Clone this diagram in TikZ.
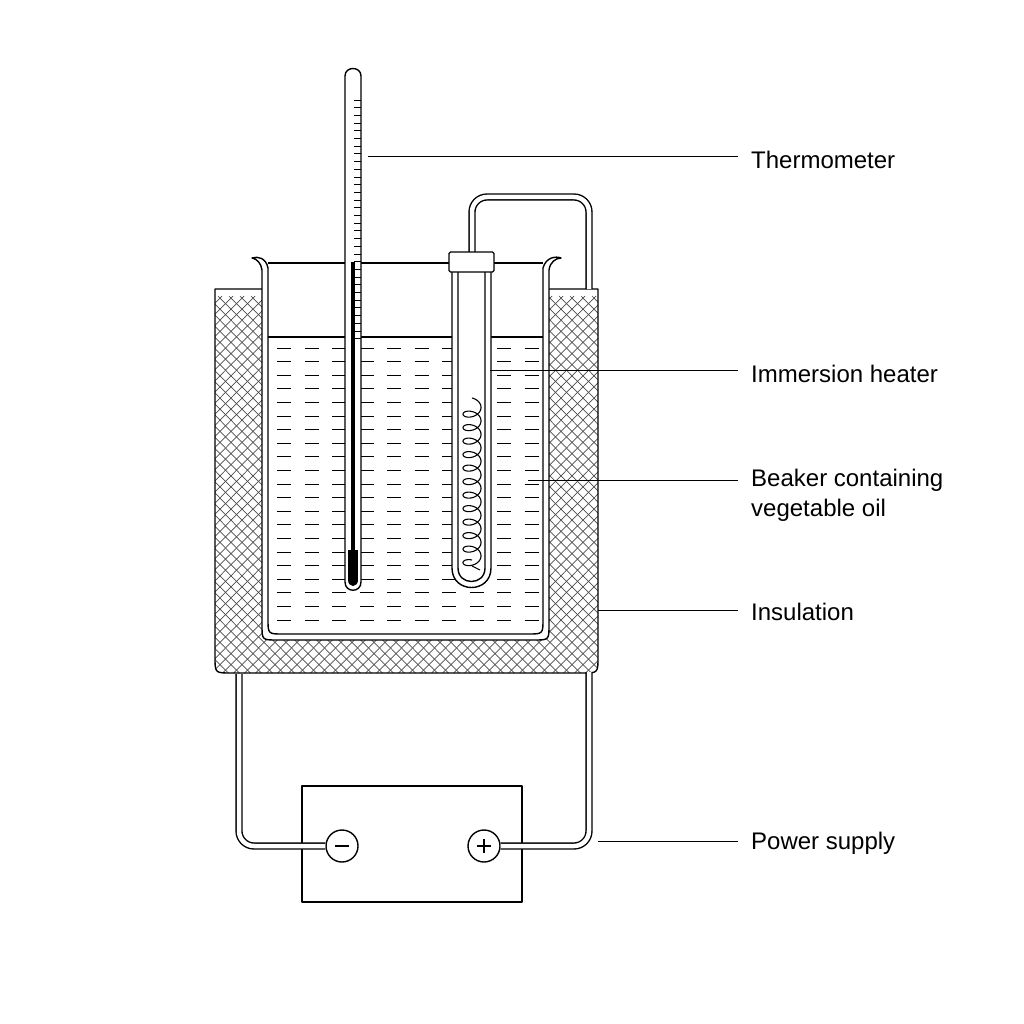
\documentclass[tikz,border=0pt]{standalone}
\usepackage{fontspec}
\setmainfont{Liberation Sans}
\begin{document}
\begin{tikzpicture}[x=1pt,y=-1pt,line join=round,
  ln/.style={line width=1.4pt},
  wire/.style={draw=black,line width=1.4pt,double=white,double distance=4.5pt,rounded corners=15pt},
  lead/.style={line width=1pt},
  lab/.style={anchor=west,font=\fontsize{24}{30}\selectfont,align=left,inner sep=0pt}]
\useasboundingbox (0,0) rectangle (1024,1024);
% insulation hatch
\begin{scope}[even odd rule]
\clip (215,289) -- (215,657) .. controls (215,673) .. (231,673) -- (582,673) .. controls (598,673) .. (598,657) -- (598,289) -- cycle
  (262,250) -- (262,625) .. controls (262,640) .. (277,640) -- (534,640) .. controls (549,640) .. (549,625) -- (549,250) -- cycle;
\foreach \i in {0,11,...,900}{
  \draw[line width=0.7pt,gray!60!black] (\i-200,700) -- (\i+200,296);
  \draw[line width=0.7pt,gray!60!black] (\i-200,296) -- (\i+200,700);
}
\end{scope}
\draw[ln] (262,289) -- (215,289) -- (215,657) .. controls (215,673) .. (231,673) -- (582,673) .. controls (598,673) .. (598,657) -- (598,289) -- (549,289);
% beaker
\node[coordinate] (bk) at (405,450) {};
\draw[ln,fill=white] (262,270) -- (262,625) .. controls (262,640) .. (277,640) -- (534,640) .. controls (549,640) .. (549,625) -- (549,270)
  .. controls (550,262) and (556,258) .. (561,258) .. controls (556,256) and (546,257) .. (543,268)
  -- (543,619) .. controls (543,634) .. (528,634) -- (283,634) .. controls (268,634) .. (268,619) -- (268,268)
  .. controls (266,258) and (258,256) .. (252,258) .. controls (257,259) and (261,263) .. (262,270) -- cycle;
\draw[ln] (268,263) -- (543,263);
\draw[ln] (268,337) -- (543,337);
% oil dashes
\begin{scope}
\clip (268,340) rectangle (543,630);
\foreach \r in {0,...,20}{
  \foreach \c in {0,...,9}{
    \draw[line width=0.9pt] ({277+27.5*\c},{348+13.6*\r}) -- +(14,0);
  }
}
\end{scope}
% heater wire above
\draw[wire] (472,254) -- (472,197) -- (589,197) -- (589,289);
% thermometer
\node[coordinate] (th) at (353,157) {};
\draw[ln,fill=white] (345,76) .. controls (345,66) and (361,66) .. (361,76) -- (361,582) .. controls (361,593) and (345,593) .. (345,582) -- cycle;
\foreach \y in {100,107.7,...,345} \draw[line width=0.9pt] (354,\y) -- (361,\y);
\draw[line width=3.5pt] (353,262) -- (353,550);
\fill (348,550) rectangle (358,580);
\fill (353,580) ellipse (5 and 6);
% heater
\node[coordinate] (ht) at (490,370) {};
\draw[ln,fill=white] (452,272) -- (452,568) .. controls (452,594) and (491,594) .. (491,568) -- (491,272);
\draw[ln] (458,272) -- (458,568) .. controls (458,586) and (485,586) .. (485,568) -- (485,272);
\draw[ln,fill=white,rounded corners=1.5pt] (449,252) rectangle (494,272);
\draw[line width=1.1pt,domain=0:4320,samples=500,smooth,variable=\t] plot ({472+9*sin(\t)},{404+\t/360*13.5-6*cos(\t)});
\draw[line width=1.1pt] (472,566) -- (480,570);
% power supply
\node[draw,ln,minimum width=220pt,minimum height=116pt,inner sep=0pt] (ps) at (412,844) {};
\node[draw,ln,circle,minimum size=32pt,inner sep=0pt,fill=white] (neg) at (342,846) {};
\draw[ln] (335,846) -- (349,846);
\node[draw,ln,circle,minimum size=32pt,inner sep=0pt,fill=white] (pos) at (484,846) {};
\draw[ln] (477,846) -- (491,846) (484,839) -- (484,853);
\draw[wire] (239,674) -- (239,846) -- (neg.west);
\draw[wire] (589,672) -- (589,846) -- (pos.east);
% labels
\node[lab] (l1) at (751,160) {Thermometer};
\node[lab] (l2) at (751,374) {Immersion heater};
\node[lab,anchor=north west] (l3) at (751,469) {Beaker containing\\vegetable oil};
\node[lab] (l4) at (751,612) {Insulation};
\node[lab] (l5) at (751,843) {Power supply};
\coordinate (c3) at (528,480);
\coordinate (c4) at (598,610);
\coordinate (c5) at (598,841);
\draw[lead] (368,157) -- (738,157);
\draw[lead] (ht) -- (738,370);
\draw[lead] (c3) -- (738,480);
\draw[lead] (c4) -- (738,610);
\draw[lead] (c5) -- (738,841);
\end{tikzpicture}
\end{document}
